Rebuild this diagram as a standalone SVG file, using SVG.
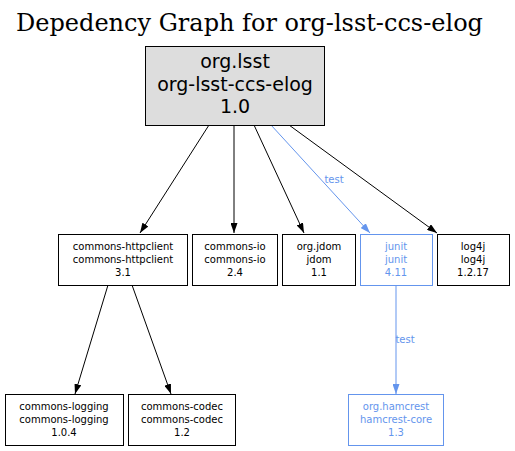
<svg xmlns="http://www.w3.org/2000/svg" width="515" height="451" viewBox="0 0 515 451">
<style>
.t{font-family:"DejaVu Sans",sans-serif;font-size:10px;text-anchor:middle;fill:#000}
.b{fill:#fff;stroke:#000;stroke-width:1}
.blue .b{stroke:#6495ed}
.blue .t{fill:#6495ed}
.e{fill:none;stroke:#000;stroke-width:1}
.eb{fill:none;stroke:#6495ed;stroke-width:1}
.lbl{font-family:"DejaVu Sans",sans-serif;font-size:10px;text-anchor:middle;fill:#6495ed}
</style>
<defs>
<marker id="ak" viewBox="0 0 10 7" refX="10" refY="3.5" markerWidth="10" markerHeight="7" markerUnits="userSpaceOnUse" orient="auto"><path d="M0,0 L10,3.5 L0,7 Z" fill="#000"/></marker>
<marker id="ab" viewBox="0 0 10 7" refX="10" refY="3.5" markerWidth="10" markerHeight="7" markerUnits="userSpaceOnUse" orient="auto"><path d="M0,0 L10,3.5 L0,7 Z" fill="#6495ed"/></marker>
</defs>
<rect width="515" height="451" fill="#fff"/>
<text x="249.5" y="31" font-family="'DejaVu Serif',serif" font-size="24" text-anchor="middle">Depedency Graph for org-lsst-ccs-elog</text>
<g id="edges">
<path class="e" d="M209,125 L140,233" marker-end="url(#ak)"/>
<path class="e" d="M234,125 L234,233" marker-end="url(#ak)"/>
<path class="e" d="M254,125 L304,233" marker-end="url(#ak)"/>
<path class="eb" d="M271,125 L370,233" marker-end="url(#ab)"/>
<text class="lbl" x="334" y="183">test</text>
<path class="e" d="M289,125 L437,233" marker-end="url(#ak)"/>
<path class="e" d="M108,285 L75,394" marker-end="url(#ak)"/>
<path class="e" d="M132,285 L171,394" marker-end="url(#ak)"/>
<path class="eb" d="M396,285 L396,394" marker-end="url(#ab)"/>
<text class="lbl" x="405" y="343">test</text>
</g>
<g id="root">
<rect x="145.5" y="46.5" width="179" height="79" fill="#dddddd" stroke="#000"/>
<text class="t" style="font-size:19px" x="235" y="68">org.lsst</text>
<text class="t" style="font-size:19px" x="235" y="91">org-lsst-ccs-elog</text>
<text class="t" style="font-size:19px" x="235" y="113">1.0</text>
</g>
<g id="httpclient">
<rect class="b" x="58.5" y="234.5" width="129" height="51"/>
<text class="t" x="123" y="249.5">commons-httpclient</text>
<text class="t" x="123" y="262.5">commons-httpclient</text>
<text class="t" x="123" y="276">3.1</text>
</g>
<g id="commonsio">
<rect class="b" x="192.5" y="234.5" width="85" height="51"/>
<text class="t" x="235" y="249.5">commons-io</text>
<text class="t" x="235" y="262.5">commons-io</text>
<text class="t" x="235" y="276">2.4</text>
</g>
<g id="jdom">
<rect class="b" x="282.5" y="234.5" width="73" height="51"/>
<text class="t" x="319" y="249.5">org.jdom</text>
<text class="t" x="319" y="262.5">jdom</text>
<text class="t" x="319" y="276">1.1</text>
</g>
<g id="junit" class="blue">
<rect class="b" x="360.5" y="234.5" width="72" height="51"/>
<text class="t" x="396" y="249.5">junit</text>
<text class="t" x="396" y="262.5">junit</text>
<text class="t" x="396" y="276">4.11</text>
</g>
<g id="log4j">
<rect class="b" x="437.5" y="234.5" width="72" height="51"/>
<text class="t" x="473" y="249.5">log4j</text>
<text class="t" x="473" y="262.5">log4j</text>
<text class="t" x="473" y="276">1.2.17</text>
</g>
<g id="logging">
<rect class="b" x="5.5" y="394.5" width="118" height="51"/>
<text class="t" x="64" y="409.5">commons-logging</text>
<text class="t" x="64" y="422.5">commons-logging</text>
<text class="t" x="64" y="436">1.0.4</text>
</g>
<g id="codec">
<rect class="b" x="128.5" y="394.5" width="107" height="51"/>
<text class="t" x="182" y="409.5">commons-codec</text>
<text class="t" x="182" y="422.5">commons-codec</text>
<text class="t" x="182" y="436">1.2</text>
</g>
<g id="hamcrest" class="blue">
<rect class="b" x="348.5" y="394.5" width="95" height="51"/>
<text class="t" x="396" y="409.5">org.hamcrest</text>
<text class="t" x="396" y="422.5">hamcrest-core</text>
<text class="t" x="396" y="436">1.3</text>
</g>
</svg>
